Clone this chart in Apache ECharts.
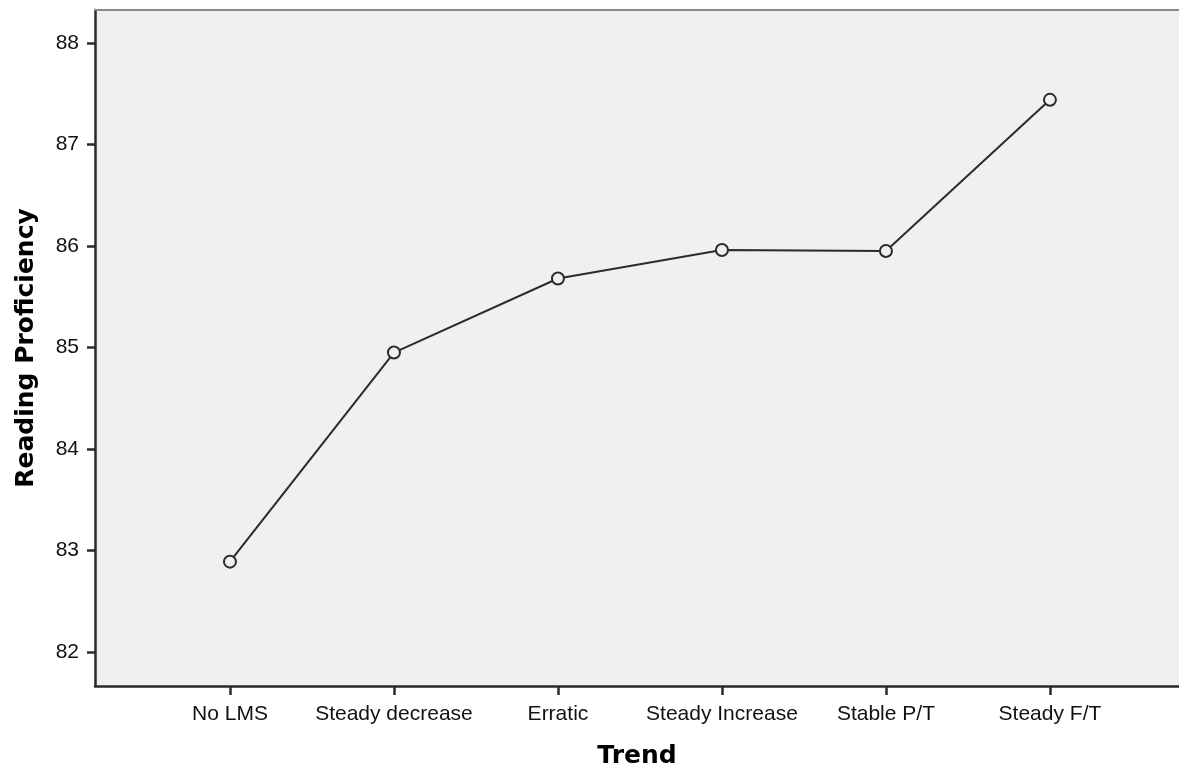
<!DOCTYPE html>
<html>
<head>
<meta charset="utf-8">
<script src="https://cdn.jsdelivr.net/npm/echarts@6/dist/echarts.min.js"></script>
<style>html,body{margin:0;padding:0;background:#fff;}#c{width:1179px;height:773px;}</style>
</head>
<body>
<div id="c"></div>
<script>
const categories = ["No LMS", "Steady decrease", "Erratic", "Steady Increase", "Stable P/T", "Steady F/T"];
const values = [82.89, 84.95, 85.68, 85.96, 85.95, 87.44];
const yTicks = [82, 83, 84, 85, 86, 87, 88];

const chart = echarts.init(document.getElementById('c'), null, {renderer: 'canvas'});
const xIdx = categories.map((c, i) => i);
const font = '"Liberation Sans", Arial, sans-serif';
const titleFont = '"DejaVu Sans", Verdana, sans-serif';
chart.setOption({
  animation: false,
  backgroundColor: '#ffffff',
  grid: {left: 95, right: 0, top: 10, bottom: 87, show: true, backgroundColor: '#f0f0f0', borderWidth: 0,
    outerBoundsMode: 'none', containLabel: false},
  xAxis: [{
    type: 'value', min: -0.823, max: 5.787,
    name: 'Trend', nameLocation: 'middle', nameGap: 58,
    nameTextStyle: {fontFamily: titleFont, fontSize: 25, fontWeight: 'bold', color: '#000'},
    splitLine: {show: false},
    axisLine: {show: true, onZero: false, lineStyle: {color: '#2a2a2a', width: 2.5}},
    axisTick: {show: true, length: 9, lineStyle: {color: '#2a2a2a', width: 2.5}, customValues: xIdx},
    axisLabel: {customValues: xIdx, margin: 18, fontFamily: font, fontSize: 21, color: '#111',
      formatter: v => categories[Math.round(v)]}
  }, {
    type: 'value', position: 'top', min: -0.823, max: 5.787,
    axisLine: {show: true, onZero: false, lineStyle: {color: '#8a8a8a', width: 2}},
    axisTick: {show: false}, axisLabel: {show: false}, splitLine: {show: false}
  }],
  yAxis: {
    type: 'value', min: 81.665, max: 88.325,
    name: 'Reading Proficiency', nameLocation: 'middle', nameGap: 56,
    nameTextStyle: {fontFamily: titleFont, fontSize: 25, fontWeight: 'bold', color: '#000'},
    splitLine: {show: false},
    axisLine: {show: true, onZero: false, lineStyle: {color: '#2a2a2a', width: 2.5}},
    axisTick: {show: true, length: 8, lineStyle: {color: '#2a2a2a', width: 2.5}, customValues: yTicks},
    axisLabel: {customValues: yTicks, margin: 16, fontFamily: font, fontSize: 21, color: '#111'}
  },
  series: [{
    type: 'line',
    data: values.map((v, i) => [i, v]),
    symbol: 'circle', symbolSize: 12,
    lineStyle: {color: '#2b2b2b', width: 2},
    itemStyle: {color: '#f0f0f0', borderColor: '#2b2b2b', borderWidth: 2}
  }]
});
</script>
</body>
</html>
